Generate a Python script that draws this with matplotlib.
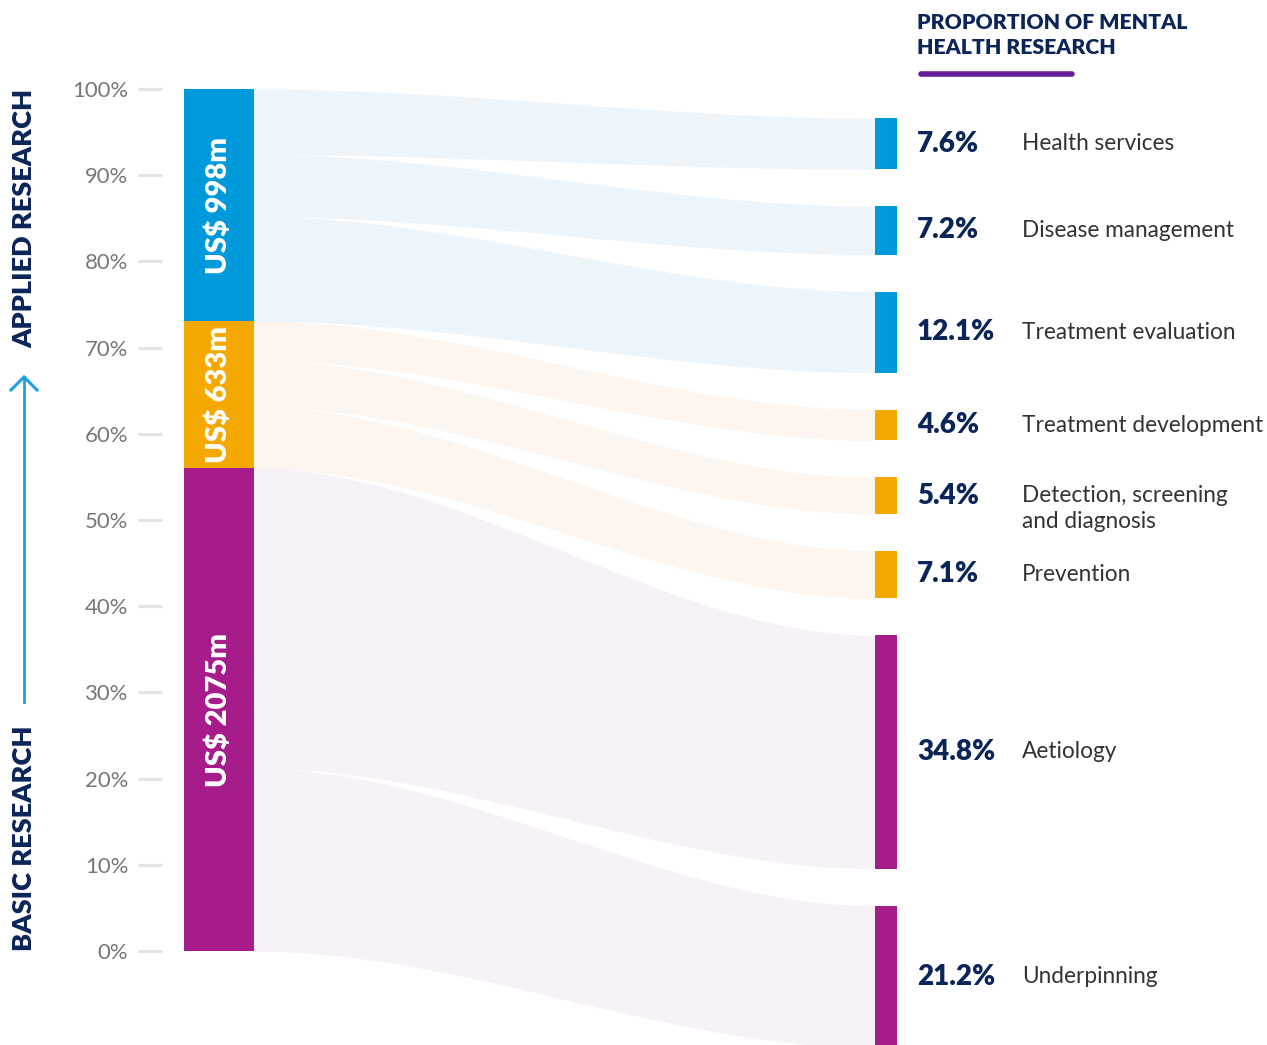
import numpy as np
import matplotlib
matplotlib.use('Agg')
import matplotlib.pyplot as plt

plt.rcParams['font.family'] = ['Lato', 'DejaVu Sans']

# left side: funding by research type (US$ m)
groups = ['US$ 2075m', 'US$ 633m', 'US$ 998m']
group_values = [2075, 633, 998]
group_colors = ['#A51C8A', '#F5A800', '#0099DB']
flow_colors = ['#F7F2F7', '#FCF5F0', '#EDF4FA']

# right side: proportion of mental health research (%), bottom to top
cats = ['Underpinning', 'Aetiology', 'Prevention', 'Detection, screening\nand diagnosis',
        'Treatment development', 'Treatment evaluation', 'Disease management', 'Health services']
cat_values = [21.2, 34.8, 7.1, 5.4, 4.6, 12.1, 7.2, 7.6]
cat_group = [0, 0, 1, 1, 1, 2, 2, 2]
pct_labels = ['21.2%', '34.8%', '7.1%', '5.4%', '4.6%', '12.1%', '7.2%', '7.6%']

navy = '#0B2559'
px = 8.62  # pixels per percentage point

fig = plt.figure(figsize=(12.67, 10.45), dpi=100)
ax = fig.add_axes([0, 0, 1, 1])
ax.set_xlim(0, 1267)
ax.set_ylim(-10.9, 110.32)

# left stacked bar
total = sum(group_values)
gp = [v / total * 100 for v in group_values]
gbot = np.concatenate([[0], np.cumsum(gp)[:-1]])
ax.bar(219, gp, width=70, bottom=gbot, color=group_colors, zorder=3)
for g, b, h in zip(groups, gbot, gp):
    ax.text(219, b + h / 2, g, rotation=90, ha='center', va='center', color='white',
            fontsize=21, fontweight='heavy', zorder=4)

# right nodes
scale = 0.778
gap = 4.29
top = 96.6
rh = [v * scale for v in cat_values]
rtop = []
y = top
for h in rh[::-1]:
    rtop.append(y)
    y -= h + gap
rtop = rtop[::-1]
rbot = [t - h for t, h in zip(rtop, rh)]
ax.bar(886, rh, width=22, bottom=rbot, color=[group_colors[g] for g in cat_group], zorder=3)

# flows
x0, x1 = 254, 875
xs = np.linspace(x0, x1, 300)
t = (xs - x0) / (x1 - x0)
s = 3 * t ** 2 - 2 * t ** 3
lb = np.concatenate([[0], np.cumsum(cat_values)[:-1]])
for i, v in enumerate(cat_values):
    l0, l1 = lb[i], lb[i] + v
    r0, r1 = rbot[i], rtop[i]
    lo = l0 + (r0 - l0) * s
    hi = l1 + (r1 - l1) * s
    ax.fill_between(xs, lo, hi, color=flow_colors[cat_group[i]], lw=0, zorder=1)

# right labels
for i, (c, p) in enumerate(zip(cats, pct_labels)):
    yc = (rtop[i] + rbot[i]) / 2
    ax.text(917, yc, p, ha='left', va='center', fontsize=20, fontweight='heavy', color=navy)
    if '\n' in c:
        ax.text(1022, yc + 1.2, c, ha='left', va='top', fontsize=16.3, color='#333333',
                linespacing=1.3)
    else:
        ax.text(1022, yc, c, ha='left', va='center', fontsize=16.3, color='#333333')

# title
ax.text(917, 110.32 - 13 / px, 'PROPORTION OF MENTAL\nHEALTH RESEARCH', ha='left', va='top',
        fontsize=15.3, fontweight='heavy', color=navy, linespacing=1.35)
ax.plot([921, 1072], [(951 - 74) / px] * 2, color='#6A1B9A', lw=4, solid_capstyle='round')

# y axis ticks
ax.spines['left'].set_position(('data', 162))
for sp in ax.spines.values():
    sp.set_visible(False)
ax.set_yticks(range(0, 101, 10))
ax.set_yticklabels([f'{v}%' for v in range(0, 101, 10)])
ax.tick_params(axis='y', length=17.3, width=2.2, color='#E2E5E5', pad=7,
               labelsize=15.9, labelcolor='#777777')
ax.set_xticks([])

# side labels and arrow
ax.text(24, 0, 'BASIC RESEARCH', rotation=90, ha='center', va='bottom', fontsize=19.6,
        fontweight='heavy', color=navy)
ax.text(24, (951 - 348) / px, 'APPLIED RESEARCH', rotation=90, ha='center', va='bottom',
        fontsize=19.6, fontweight='heavy', color=navy)
ya, yb = (951 - 702) / px, (951 - 377) / px
ax.plot([24, 24], [ya, yb], color='#1DA1E2', lw=2)
ax.plot([11, 24, 37], [yb - 13 / px, yb, yb - 13 / px], color='#1DA1E2', lw=2.2,
        solid_joinstyle='miter')

fig.savefig('out.png', dpi=100)
